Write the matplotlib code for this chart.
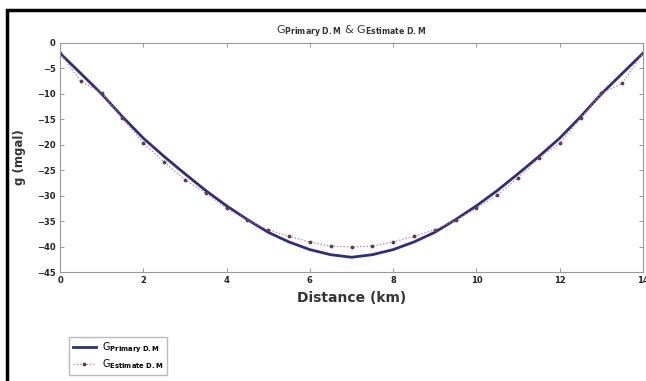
import matplotlib
matplotlib.use("Agg")
import matplotlib.pyplot as plt
from matplotlib.patches import Rectangle

distance = [0, 0.5, 1, 1.5, 2, 2.5, 3, 3.5, 4, 4.5, 5, 5.5, 6, 6.5, 7,
            7.5, 8, 8.5, 9, 9.5, 10, 10.5, 11, 11.5, 12, 12.5, 13, 13.5, 14]
g_primary = [-2.0, -6.0, -10.0, -14.5, -18.7, -22.3, -25.7, -29.0, -32.0, -34.7,
             -37.2, -39.1, -40.6, -41.6, -42.1, -41.6, -40.6, -39.1, -37.2, -34.7,
             -32.0, -29.0, -25.7, -22.3, -18.7, -14.5, -10.0, -6.0, -2.0]
g_estimate = [-2.0, -7.5, -9.8, -14.8, -19.6, -23.4, -26.9, -29.5, -32.5, -34.8,
              -36.7, -38.0, -39.1, -39.9, -40.1, -39.9, -39.1, -38.0, -36.7, -34.8,
              -32.5, -29.9, -26.5, -22.6, -19.7, -14.8, -9.9, -7.9, -2.0]
xticks = [0, 2, 4, 6, 8, 10, 12, 14]
yticks = [0, -5, -10, -15, -20, -25, -30, -35, -40, -45]

W, H = 646, 381
fig = plt.figure(figsize=(W / 100, H / 100), dpi=100)
fig.patch.set_facecolor("white")

# outer black frame
fig.patches.append(Rectangle((7 / W, -0.05), 1.1, 1 - 10 / H + 0.05,
                             transform=fig.transFigure, fill=False,
                             edgecolor="black", linewidth=2.5))

ax = fig.add_axes([60 / W, 1 - 272 / H, (643 - 60) / W, (272 - 43) / H])
l1, = ax.plot(distance, g_primary, color="#2e2f78", lw=2.0)
l2, = ax.plot(distance, g_estimate, color="#d07080", lw=0.9, ls=":",
              marker=".", markersize=3.5, markerfacecolor="#5a4050",
              markeredgecolor="#5a4050")

ax.set_xlim(0, 14)
ax.set_ylim(-45, 0)
ax.set_xticks(xticks)
ax.set_yticks(yticks)
ax.tick_params(direction="in", top=True, right=True, length=3, width=0.6,
               colors="#888888", labelcolor="#222222", labelsize=6, pad=3)
for lbl in ax.get_xticklabels() + ax.get_yticklabels():
    lbl.set_fontweight("bold")
for s in ax.spines.values():
    s.set_color("#999999")
    s.set_linewidth(0.8)

ax.set_xlabel("Distance (km)", fontsize=10, fontweight="bold", color="#333333", labelpad=4)
ax.set_ylabel("g (mgal)", fontsize=8.5, fontweight="bold", color="#333333", labelpad=8)
ax.set_title(r"G$_{\mathbf{Primary\ D.M}}$ & G$_{\mathbf{Estimate\ D.M}}$",
             fontsize=8, color="#333333", pad=6)

fig.legend([l1, l2], [r"G$_{\mathbf{Primary\ D.M}}$", r"G$_{\mathbf{Estimate\ D.M}}$"],
           loc="upper left", bbox_to_anchor=(64 / W, 1 - 332 / H),
           fontsize=7, frameon=True, fancybox=False, edgecolor="#aaaaaa",
           handlelength=2.4, borderpad=0.4, labelspacing=0.25, handletextpad=0.6)

fig.savefig("out.png", dpi=100, facecolor="white")
